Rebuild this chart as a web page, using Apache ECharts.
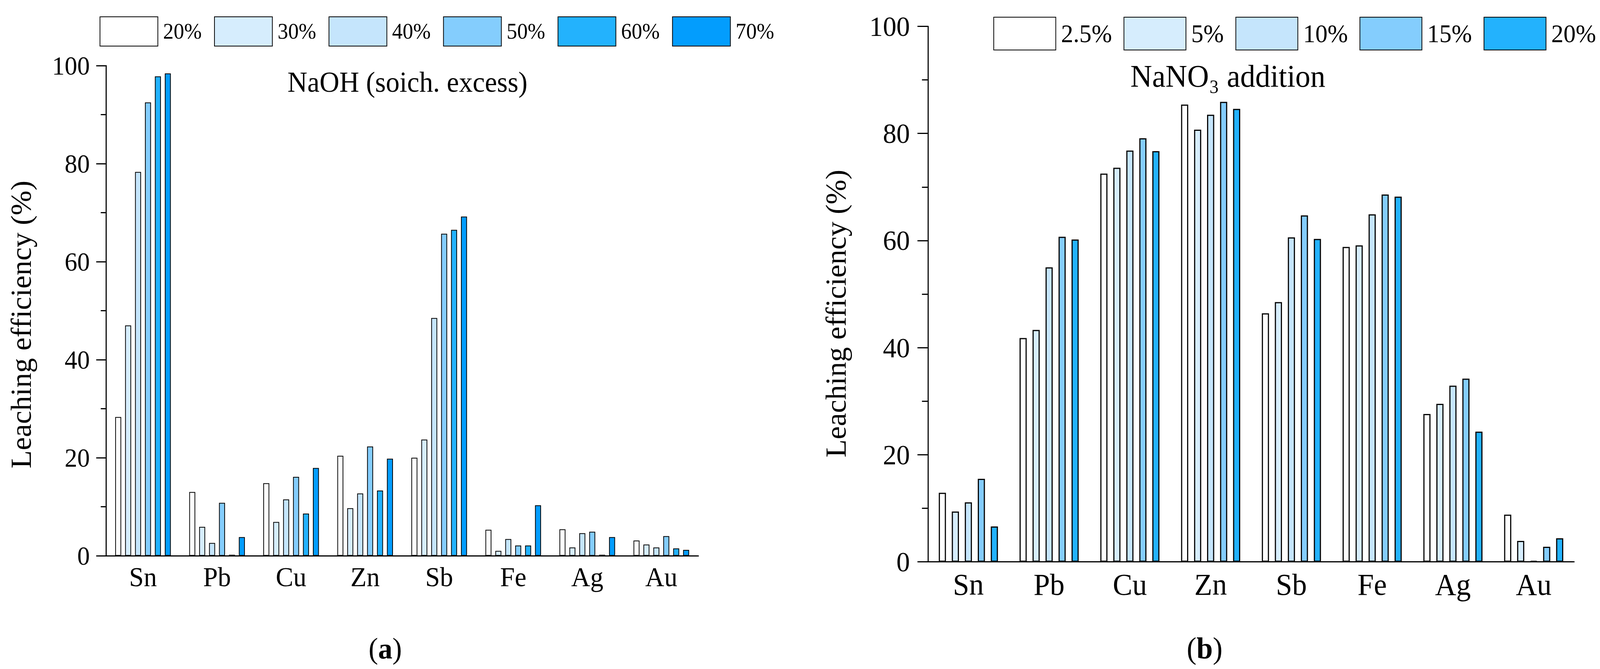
<!DOCTYPE html>
<html>
<head>
<meta charset="utf-8">
<script src="https://cdn.jsdelivr.net/npm/echarts@6/dist/echarts.min.js"></script>
<style>
html,body{margin:0;padding:0;background:#ffffff;overflow:hidden;}
#wrap{position:absolute;left:0;top:0;width:4257px;height:1713px;transform-origin:0 0;}
.c{position:absolute;left:0;top:0;width:4257px;height:1713px;}
</style>
</head>
<body>
<div id="wrap">
<div id="ca" class="c"></div>
<div id="cb" class="c"></div>
</div>
<script>
// ---------- data ----------
const elements = ['Sn', 'Pb', 'Cu', 'Zn', 'Sb', 'Fe', 'Ag', 'Au'];
const yTicks = [0, 20, 40, 60, 80, 100];

// (a) NaOH stoichiometric excess
const naohNames = ['20%', '30%', '40%', '50%', '60%', '70%'];
const naoh20 = [28.3, 13.0, 14.8, 20.4, 20.0, 5.3, 5.4, 3.1];
const naoh30 = [47.0, 5.9, 6.9, 9.7, 23.7, 1.0, 1.7, 2.3];
const naoh40 = [78.3, 2.6, 11.5, 12.7, 48.5, 3.4, 4.6, 1.7];
const naoh50 = [92.5, 10.8, 16.1, 22.3, 65.7, 2.1, 4.9, 4.0];
const naoh60 = [97.8, 0.2, 8.6, 13.3, 66.5, 2.1, 0.2, 1.5];
const naoh70 = [98.4, 3.8, 17.9, 19.8, 69.2, 10.3, 3.8, 1.2];

// (b) NaNO3 addition
const nitNames = ['2.5%', '5%', '10%', '15%', '20%'];
const nit25 = [12.9, 41.8, 72.5, 85.4, 46.4, 58.8, 27.6, 8.8];
const nit5 = [9.4, 43.3, 73.6, 80.7, 48.5, 59.1, 29.5, 3.9];
const nit10 = [11.1, 55.0, 76.8, 83.5, 60.6, 64.9, 32.9, 0.2];
const nit15 = [15.5, 60.7, 79.1, 85.9, 64.7, 68.6, 34.2, 2.8];
const nit20 = [6.6, 60.2, 76.7, 84.6, 60.3, 68.2, 24.3, 4.4];

const naohColors = ['#ffffff', '#d6edfd', '#c5e5fc', '#84cdfd', '#23b2fd', '#039dfd'];
const nitColors = ['#ffffff', '#d6edfd', '#c5e5fc', '#84cdfd', '#23b2fd'];

// ---------- fit the 4257x1713 design to the actual viewport ----------
(function fit() {
  const W = window.innerWidth || 4257, H = window.innerHeight || 1713;
  const sx = W / 4257, sy = H / 1713;
  document.getElementById('wrap').style.transform = 'scale(' + sx + ',' + sy + ')';
})();

// ---------- helpers ----------
const FONT = '"Liberation Serif", "Times New Roman", serif';

function buildOption(cfg) {
  return {
    backgroundColor: 'transparent',
    animation: false,
    legend: {
      left: cfg.legendLeft, top: cfg.legendTop,
      orient: 'horizontal',
      itemWidth: cfg.legendW, itemHeight: cfg.legendH, itemGap: cfg.legendGap,
      icon: 'rect',
      selectedMode: false,
      data: cfg.names,
      textStyle: { fontFamily: FONT, fontSize: cfg.legendFont, color: '#000', padding: [0, 0, 0, 9] }
    },
    grid: cfg.grid,
    xAxis: {
      type: 'category',
      data: elements,
      boundaryGap: true,
      axisLine: { lineStyle: { color: '#000', width: 3 } },
      axisTick: { show: false },
      axisLabel: { fontFamily: FONT, fontSize: cfg.xFont, color: '#000', margin: 20 },
      splitLine: { show: false }
    },
    yAxis: {
      type: 'value', min: 0, max: 100, interval: 20,
      axisLine: { show: true, lineStyle: { color: '#000', width: 3 } },
      axisTick: { show: true, length: cfg.tickLen, lineStyle: { color: '#000', width: 3 } },
      minorTick: { show: true, splitNumber: 2, length: cfg.minorLen, lineStyle: { color: '#000', width: 3 } },
      axisLabel: {
        fontFamily: FONT, fontSize: cfg.yFont, color: '#000', margin: cfg.yMargin,
        formatter: function (v) { return yTicks.indexOf(v) >= 0 ? String(v) : ''; }
      },
      splitLine: { show: false },
      minorSplitLine: { show: false }
    },
    series: cfg.values.map(function (vals, i) {
      return {
        name: cfg.names[i],
        type: 'bar',
        data: vals,
        barWidth: cfg.barWidth,
        barGap: cfg.barGap,
        itemStyle: { color: cfg.colors[i], borderColor: '#000', borderWidth: cfg.border },
        emphasis: { disabled: true }
      };
    }),
    graphic: cfg.graphic
  };
}

// ---------- chart (a) ----------
const chartA = echarts.init(document.getElementById('ca'), null, { renderer: 'svg', width: 4257, height: 1713 });
chartA.setOption(buildOption({
  names: naohNames,
  values: [naoh20, naoh30, naoh40, naoh50, naoh60, naoh70],
  colors: naohColors,
  legendLeft: 260, legendTop: 37, legendW: 154, legendH: 75, legendGap: 33, legendFont: 56,
  grid: { left: 282, right: 2399, top: 168, bottom: 290, containLabel: false },
  xFont: 70, yFont: 67, yMargin: 43, tickLen: 26, minorLen: 14,
  barWidth: 16, barGap: '65%', border: 2,
  graphic: [
    { type: 'text', x: 57, y: 831, rotation: Math.PI / 2,
      style: { text: 'Leaching efficiency (%)', fontFamily: FONT, fontSize: 76, fill: '#000', align: 'center', verticalAlign: 'middle' } },
    { type: 'text', x: 765, y: 210,
      style: { text: 'NaOH (soich. excess)', fontFamily: FONT, fontSize: 73, fill: '#000', align: 'left', verticalAlign: 'middle' } },
    { type: 'text', x: 1025, y: 1661,
      style: { text: '{p|(}{b|a}{p|)}', align: 'center', verticalAlign: 'middle',
        rich: { p: { fontFamily: FONT, fontSize: 76, color: '#000' },
                b: { fontFamily: FONT, fontSize: 76, fontWeight: 'bold', color: '#000' } } } }
  ]
}));

// ---------- chart (b) ----------
const chartB = echarts.init(document.getElementById('cb'), null, { renderer: 'svg', width: 4257, height: 1713 });
chartB.setOption(buildOption({
  names: nitNames,
  values: [nit25, nit5, nit10, nit15, nit20],
  colors: nitColors,
  legendLeft: 2638, legendTop: 38, legendW: 165, legendH: 84, legendGap: 31, legendFont: 65,
  grid: { left: 2469, right: 69, top: 67.5, bottom: 274.5, containLabel: false },
  xFont: 78, yFont: 72, yMargin: 48, tickLen: 28, minorLen: 16,
  barWidth: 19, barGap: '82%', border: 3,
  graphic: [
    { type: 'text', x: 2225, y: 803, rotation: Math.PI / 2,
      style: { text: 'Leaching efficiency (%)', fontFamily: FONT, fontSize: 76, fill: '#000', align: 'center', verticalAlign: 'middle' } },
    { type: 'text', x: 3267, y: 195,
      style: { text: 'NaNO\u2083 addition', fontFamily: FONT, fontSize: 80, fill: '#000', align: 'center', verticalAlign: 'middle' } },
    { type: 'text', x: 3205, y: 1660,
      style: { text: '{p|(}{b|b}{p|)}', align: 'center', verticalAlign: 'middle',
        rich: { p: { fontFamily: FONT, fontSize: 78, color: '#000' },
                b: { fontFamily: FONT, fontSize: 78, fontWeight: 'bold', color: '#000' } } } }
  ]
}));
</script>
</body>
</html>
